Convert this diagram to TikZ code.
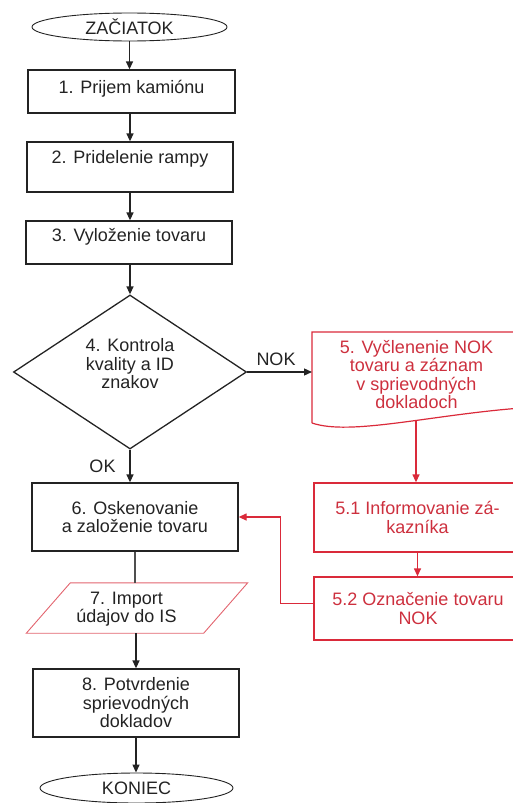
\documentclass[tikz,border=0pt]{standalone}
\usepackage{fontspec}
\setmainfont{Liberation Sans}
\usetikzlibrary{shapes.geometric,arrows.meta,calc}
\definecolor{ink}{RGB}{35,35,35}
\definecolor{flowred}{RGB}{218,42,58}
\definecolor{redtext}{RGB}{205,48,62}
\definecolor{pinkline}{RGB}{226,100,110}

\begin{document}
\begin{tikzpicture}[x=1pt,y=-1pt,
  every node/.style={font=\fontsize{18}{18.5}\selectfont, align=center, inner sep=0pt, text=ink},
  box/.style={draw=ink, line width=1.3pt, rectangle},
  redbox/.style={draw=flowred, line width=1.3pt, rectangle, text=redtext},
  term/.style={draw=ink, line width=0.9pt, ellipse},
  flow/.style={draw=ink, line width=1.3pt, -{Triangle[length=8pt,width=7pt]}},
  plainflow/.style={draw=ink!80, line width=1.3pt},
  redflow/.style={draw=flowred, line width=1.3pt, -{Triangle[length=8pt,width=7pt]}},
  redline/.style={draw=flowred, line width=1.2pt},
]
\useasboundingbox (0,0) rectangle (512,803);

% terminators
\node[term, minimum width=195pt, minimum height=28pt] (start) at (129.5,27) {ZAČIATOK};
\node[term, minimum width=193pt, minimum height=30pt] (stop) at (136.5,788) {KONIEC};

% first three process steps (text sits towards the top)
\node[box, minimum width=207pt, text height=23.5pt, text depth=19.5pt] (b1) at (131.5,91.5) {1. Prijem kamiónu};
\node[box, minimum width=206pt, text height=21.5pt, text depth=28.5pt] (b2) at (130,167) {2. Pridelenie rampy};
\node[box, minimum width=206pt, text height=20.5pt, text depth=22.5pt] (b3) at (129,242.5) {3. Vyloženie tovaru};

% decision
\node[diamond, draw=ink, line width=1.3pt, minimum width=233pt, minimum height=154pt] (d4) at (130,372) {};
\node (d4t) at (130,364) {4. Kontrola\\kvality a ID\\znakov};
\node (nok) at (276,359) {NOK};
\node (ok) at (102.5,466) {OK};

% NOK branch: document shape
\coordinate (d5nw) at (312,332);
\coordinate (d5ne) at (521,332);
\coordinate (d5se) at (521,408);
\coordinate (d5sw) at (312,423);
\coordinate (d5w) at (312,372);
\coordinate (d5b) at (416,421);
\draw[redline] (d5sw) -- (d5nw) -- (d5ne) -- (d5se)
  .. controls (430,415) and (350,436) .. (d5sw);
\node[text=redtext] (d5t) at (416.5,374.5) {5. Vyčlenenie NOK\\tovaru a záznam\\v sprievodných\\dokladoch};

\node[redbox, minimum width=207pt, minimum height=69pt] (b51) at (417.5,517.5) {5.1 Informovanie zá-\\kazníka};
\node[redbox, minimum width=208pt, minimum height=63pt] (b52) at (418,608.5) {5.2 Označenie tovaru\\NOK};

% main line continued
\node[box, minimum width=206pt, minimum height=68pt] (b6) at (135,517) {6. Oskenovanie\\a založenie tovaru};

\node[minimum width=177pt, minimum height=50pt] (p7) at (137,608) {};
\draw[draw=pinkline, line width=0.9pt]
  ([xshift=-22pt]p7.south west) -- ([xshift=-22pt]p7.south east)
  -- ([xshift=22pt]p7.north east) -- ([xshift=22pt]p7.north west) -- cycle;
\node (p7t) at (126.5,609) {7. Import\\údajov do IS};

\node[box, minimum width=206pt, minimum height=68pt] (b8) at (136,703) {8. Potvrdenie\\sprievodných\\dokladov};

% connectors
\draw[flow] (start.south) -- (start.south |- b1.north);
\draw[flow] (b2.north |- b1.south) -- (b2.north);
\draw[flow] (b2.south) -- (b2.south |- b3.north);
\draw[flow] (d4.north |- b3.south) -- (d4.north);
\draw[flow] (d4.east) -- (d5w);
\draw[flow] (d4.south) -- (d4.south |- b6.north);
\draw[plainflow] (b6.south) -- (b6.south |- p7.north);
\draw[flow] (b8.north |- p7.south) -- (b8.north);
\draw[flow] (b8.south) -- (b8.south |- stop.north);

\draw[redflow] (d5b) -- (d5b |- b51.north);
\draw[redflow] (b51.south) -- (b51.south |- b52.north);
\draw[redflow] ([yshift=5pt]b52.west) -| ($(b6.east)+(42,0)$) -- (b6.east);
\end{tikzpicture}
\end{document}
